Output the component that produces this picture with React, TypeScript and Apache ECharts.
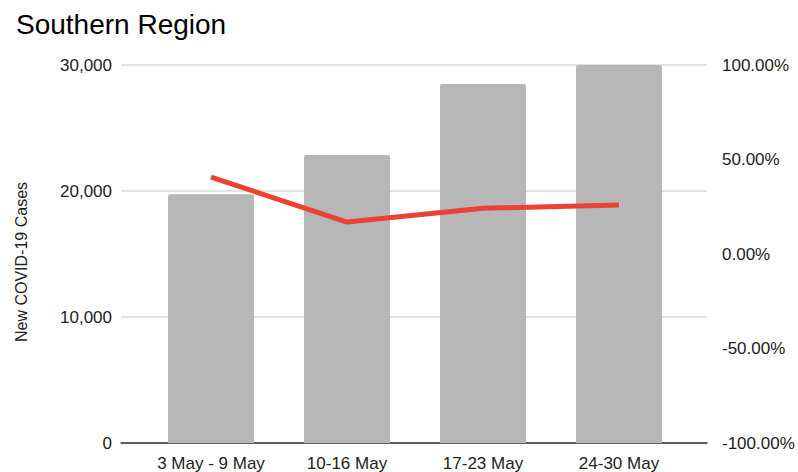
import React, { useEffect, useRef } from "react";
import * as echarts from "echarts";

const categories = ["3 May - 9 May", "10-16 May", "17-23 May", "24-30 May"];
const newCases = [19750, 22850, 28500, 30000];
const changePct = [40.7, 16.9, 24.2, 25.9];
const casesTicks = { min: 0, max: 30000, interval: 10000 };
const pctTicks = { min: -100, max: 100, interval: 50 };

const FONT = "'Liberation Sans', Arial, sans-serif";
const TEXT = "#222222";

export default function App() {
  const ref = useRef<HTMLDivElement>(null);
  useEffect(() => {
    if (!ref.current) return;
    const chart = echarts.init(ref.current, undefined, { renderer: "svg" });
    chart.setOption({
      animation: false,
      backgroundColor: "#ffffff",
      textStyle: { fontFamily: FONT },
      title: {
        text: "Southern Region",
        left: 11,
        top: 5,
        textStyle: { fontFamily: FONT, fontSize: 28, fontWeight: "normal", color: "#000000" },
      },
      graphic: [
        {
          type: "text",
          x: 21,
          y: 262,
          rotation: Math.PI / 2,
          style: {
            text: "New COVID-19 Cases",
            fontFamily: FONT,
            fontSize: 16,
            fill: TEXT,
            align: "center",
            verticalAlign: "middle",
          },
        },
      ],
      grid: [
        { left: 121, right: 91, top: 65, bottom: 29 },
        { left: 143, right: 111, top: 65, bottom: 29 },
      ],
      xAxis: [
        {
          type: "category",
          gridIndex: 0,
          data: categories,
          axisLine: { show: true, lineStyle: { color: "#333333", width: 1.5 } },
          axisTick: { show: false },
          axisLabel: { show: false },
          splitLine: { show: false },
        },
        {
          type: "category",
          gridIndex: 1,
          data: categories,
          axisLine: { show: false },
          axisTick: { show: false },
          axisLabel: { interval: 0, fontSize: 17, color: TEXT, margin: 12, fontFamily: FONT },
        },
      ],
      yAxis: [
        {
          type: "value",
          gridIndex: 0,
          ...casesTicks,
          axisLine: { show: false },
          axisTick: { show: false },
          axisLabel: {
            fontSize: 17,
            color: TEXT,
            margin: 9,
            fontFamily: FONT,
            formatter: (v: number) => v.toLocaleString("en-US"),
          },
          splitLine: { show: true, lineStyle: { color: "#d9d9d9", width: 1.5 } },
        },
        {
          type: "value",
          gridIndex: 0,
          position: "right",
          ...pctTicks,
          axisLine: { show: false },
          axisTick: { show: false },
          axisLabel: {
            fontSize: 17,
            color: TEXT,
            margin: 15,
            fontFamily: FONT,
            formatter: (v: number) => v.toFixed(2) + "%",
          },
          splitLine: { show: false },
        },
        {
          type: "value",
          gridIndex: 1,
          ...casesTicks,
          show: false,
          splitLine: { show: false },
        },
        {
          type: "value",
          gridIndex: 1,
          ...pctTicks,
          show: false,
          splitLine: { show: false },
        },
      ],
      series: [
        {
          name: "New COVID-19 Cases",
          type: "bar",
          xAxisIndex: 1,
          yAxisIndex: 2,
          data: newCases,
          barWidth: 86,
          itemStyle: { color: "#b7b7b7", borderRadius: [2, 2, 0, 0] },
        },
        {
          name: "Change",
          type: "line",
          xAxisIndex: 1,
          yAxisIndex: 3,
          data: changePct,
          symbol: "none",
          lineStyle: { color: "#ea4335", width: 5 },
          itemStyle: { color: "#ea4335" },
        },
      ],
    });
    return () => chart.dispose();
  }, []);
  return (
    <div
      ref={ref}
      style={{ position: "absolute", left: 0, top: 0, width: 798, height: 472 }}
    />
  );
}
